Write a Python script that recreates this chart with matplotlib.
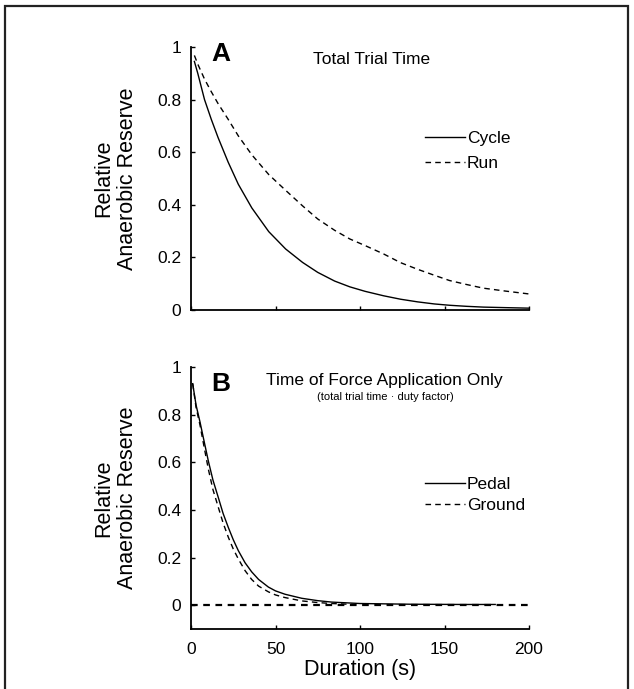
import matplotlib
matplotlib.use("Agg")
import matplotlib.pyplot as plt
from matplotlib.patches import Rectangle
from matplotlib.lines import Line2D

plt.rcParams['font.family'] = ['Liberation Sans', 'DejaVu Sans']

# ---- data ----
a_time = [2, 4, 8, 12, 16, 22, 28, 36, 46, 56, 66, 75, 85, 94, 103, 114, 124, 134, 144,
          153, 163, 173, 186, 200]
cycle = [0.945, 0.9, 0.8, 0.725, 0.656, 0.562, 0.478, 0.388, 0.298, 0.232, 0.181, 0.143,
         0.11, 0.088, 0.071, 0.054, 0.041, 0.031, 0.023, 0.018, 0.014, 0.011, 0.009, 0.007]
run = [0.968, 0.935, 0.878, 0.83, 0.785, 0.725, 0.662, 0.59, 0.515, 0.455, 0.396, 0.346,
       0.303, 0.27, 0.245, 0.213, 0.18, 0.155, 0.132, 0.112, 0.097, 0.083, 0.072, 0.061]

b_time_pedal = [1, 3, 5.3, 8, 10.3, 13, 16.2, 19, 22.1, 25, 28, 32, 35.9, 40, 45.8, 50,
                55.6, 65.5, 75, 83.2, 100, 130, 160, 180]
pedal = [0.93, 0.84, 0.77, 0.68, 0.604, 0.525, 0.451, 0.385, 0.326, 0.275, 0.229, 0.178,
         0.14, 0.108, 0.076, 0.06, 0.046, 0.029, 0.019, 0.013, 0.007, 0.004, 0.003, 0.003]
b_time_ground = [1, 3, 5.3, 8, 10.3, 13, 16.2, 19, 22.1, 25, 28, 32, 35.9, 40, 45.8, 50,
                 55.6, 65.5, 75, 83.2, 100]
ground = [0.93, 0.83, 0.757, 0.655, 0.57, 0.485, 0.41, 0.345, 0.285, 0.236, 0.194, 0.145,
          0.108, 0.08, 0.056, 0.043, 0.032, 0.018, 0.011, 0.007, 0.002]

xticks = [0, 50, 100, 150, 200]
yticks = [0, 0.2, 0.4, 0.6, 0.8, 1]
ytick_labels = ['0', '0.2', '0.4', '0.6', '0.8', '1']

W, H = 634, 689
fig = plt.figure(figsize=(W / 100, H / 100), dpi=100)

# outer frame
fig.patches.append(Rectangle((5 / W, -0.05), 623 / W, 1.05 - 6 / H, transform=fig.transFigure,
                             fill=False, lw=1.6, edgecolor='#222222'))

def px_axes(left, top, right, bottom):
    return fig.add_axes([left / W, 1 - bottom / H, (right - left) / W, (bottom - top) / H])

axA = px_axes(191, 47, 529, 310)
axB = px_axes(191, 367, 529, 629)

lw_line = 1.0
dash = (4, 3)

def style(ax, ylim, show_xlabels):
    ax.set_xlim(0, 200)
    ax.set_ylim(*ylim)
    for s in ['top', 'right']:
        ax.spines[s].set_visible(False)
    for s in ['left', 'bottom']:
        ax.spines[s].set_linewidth(1.3)
        ax.spines[s].set_color('black')
    ax.set_xticks(xticks)
    ax.set_yticks(yticks)
    ax.set_yticklabels(ytick_labels)
    ax.tick_params(direction='in', length=3, width=1, labelsize=12.5, pad=7)
    ax.tick_params(axis='x', pad=9)
    if not show_xlabels:
        ax.set_xticklabels([])
    ax.set_ylabel('Relative\nAnaerobic Reserve', fontsize=15.5, labelpad=14, linespacing=1.15)
    ax.patch.set_alpha(0)

# ---- Panel A ----
axA.plot(a_time, cycle, color='black', lw=lw_line)
axA.plot(a_time, run, color='black', lw=lw_line, dashes=dash)
style(axA, (0, 1), False)
axA.text(211 / W, 1 - 54 / H, 'A', transform=fig.transFigure, fontsize=19, fontweight='bold',
         ha='left', va='center')
axA.text(372 / W, 1 - 60 / H, 'Total Trial Time', transform=fig.transFigure, fontsize=12.5,
         ha='center', va='center')
legA = [Line2D([0], [0], color='black', lw=lw_line),
        Line2D([0], [0], color='black', lw=lw_line, dashes=dash)]
axA.legend(legA, ['Cycle', 'Run'], loc='center left', bbox_to_anchor=(425 / W, 1 - 151 / H),
           bbox_transform=fig.transFigure, frameon=False, fontsize=12.5, handlelength=2.3,
           handletextpad=0.1, labelspacing=0.55, borderpad=0, borderaxespad=0)

# ---- Panel B ----
axB.plot(b_time_pedal, pedal, color='black', lw=lw_line)
axB.plot(b_time_ground, ground, color='black', lw=lw_line, dashes=dash)
axB.axhline(0, color='black', lw=1.6, dashes=(3, 2.5))
style(axB, (-0.1, 1), True)
axB.set_xlabel('Duration (s)', fontsize=15.5, labelpad=2)
axB.text(211 / W, 1 - 384 / H, 'B', transform=fig.transFigure, fontsize=19, fontweight='bold',
         ha='left', va='center')
axB.text(384 / W, 1 - 380 / H, 'Time of Force Application Only', transform=fig.transFigure,
         fontsize=12.5, ha='center', va='center')
axB.text(385 / W, 1 - 397 / H, '(total trial time \u00b7 duty factor)', transform=fig.transFigure,
         fontsize=8, ha='center', va='center')
legB = [Line2D([0], [0], color='black', lw=lw_line),
        Line2D([0], [0], color='black', lw=lw_line, dashes=dash)]
axB.legend(legB, ['Pedal', 'Ground'], loc='center left', bbox_to_anchor=(425 / W, 1 - 495 / H),
           bbox_transform=fig.transFigure, frameon=False, fontsize=12.5, handlelength=2.3,
           handletextpad=0.1, labelspacing=0.3, borderpad=0, borderaxespad=0)

fig.savefig('out.png', dpi=100)
